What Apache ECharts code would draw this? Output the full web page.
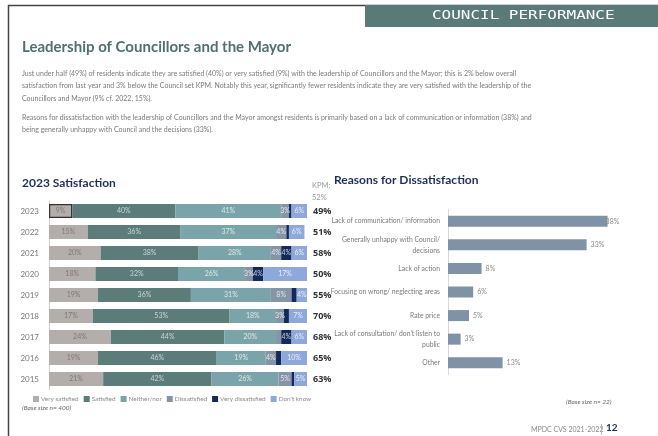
<!DOCTYPE html>
<html>
<head>
<meta charset="utf-8">
<script src="https://cdn.jsdelivr.net/npm/echarts@6/dist/echarts.min.js"></script>
<style>
  html, body { margin: 0; padding: 0; background: #fff; }
  #chart { width: 658px; height: 436px; }
</style>
</head>
<body>
<div id="chart"></div>
<script>
// Satisfaction with the leadership of Councillors and the Mayor, by survey year
const years = ['2023', '2022', '2021', '2020', '2019', '2018', '2017', '2016', '2015'];
const verySatisfied    = [9, 15, 20, 18, 19, 17, 24, 19, 21];
const satisfied        = [40, 36, 38, 32, 36, 53, 44, 46, 42];
const neitherNor       = [41, 37, 28, 26, 31, 18, 20, 19, 26];
const dissatisfied     = [3, 4, 4, 3, 8, 3, 2, 4, 5];
const veryDissatisfied = [1, 1, 4, 4, 2, 2, 4, 2, 1];
const dontKnow         = [6, 6, 6, 17, 4, 7, 6, 10, 5];
const totalSatisfied   = [49, 51, 58, 50, 55, 70, 68, 65, 63];

// Reasons for dissatisfaction
const reasons = [
  'Lack of communication/ information',
  'Generally unhappy with Council/\ndecisions',
  'Lack of action',
  'Focusing on wrong/ neglecting areas',
  'Rate price',
  'Lack of consultation/ don\'t listen to\npublic',
  'Other'
];
const reasonValues = [38, 33, 8, 6, 5, 3, 13];

const segNames = ['Very satisfied', 'Satisfied', 'Neither/nor', 'Dissatisfied', 'Very dissatisfied', "Don't know"];
const segData = [verySatisfied, satisfied, neitherNor, dissatisfied, veryDissatisfied, dontKnow];
const segColors = ['#b3aeac', '#5b7c78', '#7aa4a9', '#8595a7', '#13295a', '#8ea8da'];
const segLabelColors = ['#7d7878', '#c9d6d4', '#dde8e9', '#e0e5ec', '#c8d0e0', '#e8eef9'];

const FONT = 'Lato, "Open Sans", sans-serif';
const GRAY = '#8a8a8a';

const chart = echarts.init(document.getElementById('chart'), null, { renderer: 'canvas' });

const stackSeries = segNames.map((name, i) => ({
  name: name,
  type: 'bar',
  stack: 'sat',
  xAxisIndex: 0,
  yAxisIndex: 0,
  barWidth: 14,
  itemStyle: { color: segColors[i] },
  label: {
    show: true,
    position: 'inside',
    fontFamily: FONT,
    fontSize: 7,
    color: segLabelColors[i],
    formatter: p => (p.value >= 3 ? p.value + '%' : '')
  },
  data: segData[i].map((v, j) => (i === 0 && j === 0)
    ? { value: v, itemStyle: { borderColor: '#333', borderWidth: 1.2 } }
    : v)
}));

const option = {
  backgroundColor: '#ffffff',
  animation: false,
  textStyle: { fontFamily: FONT },
  legend: {
    left: 28,
    top: 391,
    itemWidth: 6,
    itemHeight: 6,
    itemGap: 5,
    icon: 'rect',
    textStyle: { fontFamily: FONT, fontSize: 6.4, color: GRAY, padding: [0, 0, 0, -3] },
    data: segNames
  },
  grid: [
    { left: 49, top: 200.5, width: 258, height: 189, containLabel: false },
    { left: 448, top: 209.5, width: 168, height: 165, containLabel: false }
  ],
  xAxis: [
    { gridIndex: 0, type: 'value', min: 0, max: 100, show: false },
    { gridIndex: 1, type: 'value', min: 0, max: 40, show: false }
  ],
  yAxis: [
    {
      gridIndex: 0, type: 'category', data: years, inverse: true,
      axisLine: { show: true, lineStyle: { color: '#d0d0d0', width: 1 } },
      axisTick: { show: false },
      axisLabel: { fontFamily: FONT, fontSize: 8, color: '#7a7a7a', margin: 10 }
    },
    {
      gridIndex: 0, type: 'category', data: years, inverse: true, position: 'right',
      axisLine: { show: false }, axisTick: { show: false },
      axisLabel: {
        fontFamily: '"Open Sans", sans-serif', fontSize: 9, fontWeight: 'bold', color: '#333', margin: 6,
        formatter: (v, idx) => totalSatisfied[idx] + '%'
      }
    },
    {
      gridIndex: 1, type: 'category', data: reasons, inverse: true,
      axisLine: { show: true, lineStyle: { color: '#d8d8d8', width: 1 } },
      axisTick: { show: false },
      axisLabel: { fontFamily: FONT, fontSize: 6.8, color: '#7a7a7a', margin: 8, align: 'right', lineHeight: 11 }
    }
  ],
  series: stackSeries.concat([{
    name: 'Reasons',
    type: 'bar',
    xAxisIndex: 1,
    yAxisIndex: 2,
    barWidth: 11,
    itemStyle: { color: '#8092a6' },
    label: {
      show: true, position: 'right', distance: 4,
      fontFamily: FONT, fontSize: 7, color: GRAY,
      formatter: p => p.value + '%'
    },
    data: reasonValues.map((v, i) => i === 0
      ? { value: v, label: { offset: [-6, 0] } }
      : v)
  }]),
  graphic: [
    // page frame
    { type: 'line', shape: { x1: 8, y1: 5.5, x2: 658, y2: 5.5 }, style: { stroke: '#444', lineWidth: 1.5 } },
    { type: 'line', shape: { x1: 8.5, y1: 5, x2: 8.5, y2: 436 }, style: { stroke: '#444', lineWidth: 1.5 } },
    // section header
    { type: 'rect', shape: { x: 365, y: 5, width: 293, height: 22 }, style: { fill: '#5a7a77' } },
    { type: 'text', x: 432, y: 10, scaleX: 1.33,
      style: { text: 'COUNCIL PERFORMANCE', fill: '#ffffff', font: '12px "DejaVu Sans Mono", monospace' } },
    // heading and commentary
    { type: 'text', left: 22, top: 40,
      style: { text: 'Leadership of Councillors and the Mayor', fill: '#4f716e', font: 'bold 15px Lato, sans-serif' } },
    { type: 'text', left: 22, top: 67,
      style: {
        text: 'Just under half (49%) of residents indicate they are satisfied (40%) or very satisfied (9%) with the leadership of Councillors and the Mayor; this is 2% below overall\n' +
              'satisfaction from last year and 3% below the Council set KPM. Notably this year, significantly fewer residents indicate they are very satisfied with the leadership of the\n' +
              'Councillors and Mayor (9% cf. 2022, 15%).',
        fill: '#7a7a7a', font: '7px Lato, sans-serif', lineHeight: 12.5 } },
    { type: 'text', left: 22, top: 111,
      style: {
        text: 'Reasons for dissatisfaction with the leadership of Councillors and the Mayor amongst residents is primarily based on a lack of communication or information (38%) and\n' +
              'being generally unhappy with Council and the decisions (33%).',
        fill: '#7a7a7a', font: '7px Lato, sans-serif', lineHeight: 12.5 } },
    // chart titles
    { type: 'text', left: 22, top: 177,
      style: { text: '2023 Satisfaction', fill: '#1d2f5a', font: 'bold 12px Lato, sans-serif' } },
    { type: 'text', left: 312, top: 180,
      style: { text: 'KPM:\n52%', fill: '#9a9a9a', font: '7.5px Lato, sans-serif', lineHeight: 12 } },
    { type: 'text', left: 334, top: 174,
      style: { text: 'Reasons for Dissatisfaction', fill: '#1d2f5a', font: 'bold 12px Lato, sans-serif' } },
    // base sizes
    { type: 'text', left: 22, top: 404,
      style: { text: '(Base size n= 400)', fill: '#666', font: 'italic 6.5px Lato, sans-serif' } },
    { type: 'text', left: 566, top: 398,
      style: { text: '(Base size n= 22)', fill: '#666', font: 'italic 6.5px Lato, sans-serif' } },
    // footer
    { type: 'text', left: 531, top: 426,
      style: { text: 'MPDC CVS 2021-2022', fill: '#8a8a8a', font: '7px Lato, sans-serif' } },
    { type: 'line', shape: { x1: 601.5, y1: 424, x2: 601.5, y2: 435 }, style: { stroke: '#bbb', lineWidth: 1 } },
    { type: 'text', left: 606, top: 423,
      style: { text: '12', fill: '#1d2f5a', font: 'bold 10px Lato, sans-serif' } }
  ]
};

chart.setOption(option);
</script>
</body>
</html>
